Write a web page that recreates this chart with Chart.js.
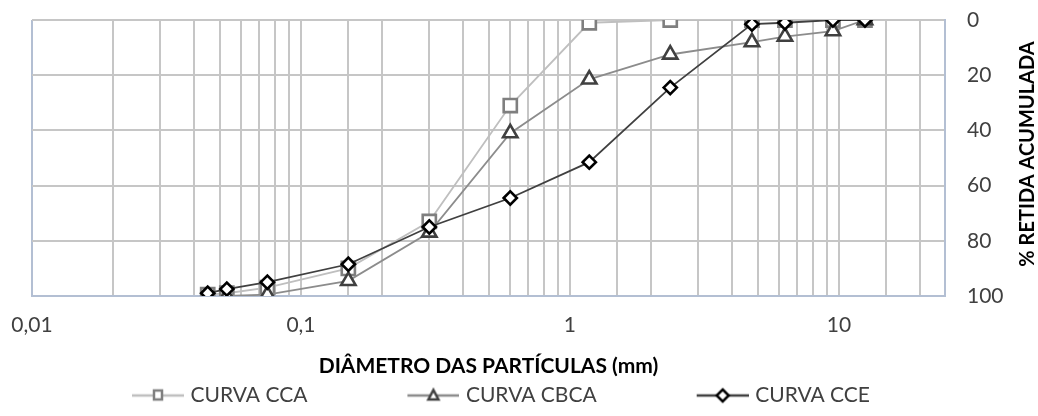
<!DOCTYPE html>
<html>
<head>
<meta charset="utf-8">
<script src="https://cdn.jsdelivr.net/npm/chart.js@4.4.1/dist/chart.umd.min.js"></script>
<style>
  html, body { margin: 0; padding: 0; background: #fff; }
  #wrap { width: 1038px; height: 416px; }
</style>
</head>
<body>
<div id="wrap"><canvas id="granChart"></canvas></div>
<script>
// sieve openings (mm)
const diametros = [0.045, 0.053, 0.075, 0.15, 0.3, 0.6, 1.18, 2.36, 4.75, 6.3, 9.5, 12.5];

// % retida acumulada
const curvaCCA  = [99.5, 99, 97, 90, 73, 31, 1, 0, 0, 0, 0, 0];
const curvaCBCA = [null, 100, 99.5, 94.5, 77, 41, 21.5, 12.5, 8, 6, 4, 0];
const curvaCCE  = [99, 97.5, 95, 88.5, 75, 64.5, 51.5, 24.5, 1.5, 1, 0, 0];

const seriesNames = ['CURVA CCA', 'CURVA CBCA', 'CURVA CCE'];
const yTicks = [0, 20, 40, 60, 80, 100];
const xLabels = [0.01, 0.1, 1, 10];

const FONT = "Lato, 'Open Sans', sans-serif";
const GRID = '#c6c6c6';
const EDGE = '#b3bfd3';

function toPoints(values) {
    return diametros.map((d, i) => ({ x: d, y: values[i] }));
}

// legend symbol: blank lead-in, then a short line with the marker in the middle
const SYM_LEAD = 98;
const SYM_W = 52;
function legendSymbol(lineColor, markerColor, style) {
    const c = document.createElement('canvas');
    c.width = SYM_LEAD + SYM_W;
    c.height = 18;
    const ctx = c.getContext('2d');
    const x0 = SYM_LEAD;
    const cx = x0 + SYM_W / 2;
    ctx.strokeStyle = lineColor;
    ctx.lineWidth = 2.5;
    ctx.beginPath();
    ctx.moveTo(x0, 9);
    ctx.lineTo(x0 + SYM_W, 9);
    ctx.stroke();
    ctx.fillStyle = '#fff';
    ctx.strokeStyle = markerColor;
    ctx.lineWidth = 2.5;
    ctx.beginPath();
    if (style === 'rect') {
        ctx.rect(cx - 4, 4, 8, 9);
    } else if (style === 'triangle') {
        ctx.moveTo(cx, 3.5);
        ctx.lineTo(cx + 5, 13);
        ctx.lineTo(cx - 5, 13);
        ctx.closePath();
    } else {
        ctx.moveTo(cx, 3);
        ctx.lineTo(cx + 6, 9);
        ctx.lineTo(cx, 15);
        ctx.lineTo(cx - 6, 9);
        ctx.closePath();
    }
    ctx.fill();
    ctx.stroke();
    return c;
}

const symbols = [
    legendSymbol('#bfbfbf', '#7f7f7f', 'rect'),
    legendSymbol('#8c8c8c', '#404040', 'triangle'),
    legendSymbol('#404040', '#000000', 'rectRot'),
];

const yTitlePlugin = {
    id: 'yTitle',
    afterDraw(chart) {
        const { ctx, chartArea } = chart;
        ctx.save();
        ctx.translate(1028, (chartArea.top + chartArea.bottom) / 2 - 4);
        ctx.rotate(-Math.PI / 2);
        ctx.font = 'bold 20px ' + FONT;
        ctx.fillStyle = '#000';
        ctx.textAlign = 'center';
        ctx.textBaseline = 'middle';
        ctx.fillText('% RETIDA ACUMULADA', 0, 0);
        ctx.restore();
    }
};

new Chart(document.getElementById('granChart'), {

    type: 'line',

    data: {
        datasets: [
            {
                label: seriesNames[0],
                data: toPoints(curvaCCA),
                borderColor: '#bfbfbf',
                borderWidth: 1.8,
                pointStyle: 'rect',
                pointRadius: 9.3,
                pointBorderWidth: 2.6,
                pointBorderColor: '#7f7f7f',
                pointBackgroundColor: '#fff',
                order: 2,
            },
            {
                label: seriesNames[1],
                data: toPoints(curvaCBCA),
                borderColor: '#8c8c8c',
                borderWidth: 1.8,
                pointStyle: 'triangle',
                pointRadius: 8.3,
                pointBorderWidth: 2.6,
                pointBorderColor: '#404040',
                pointBackgroundColor: '#fff',
                order: 1,
            },
            {
                label: seriesNames[2],
                data: toPoints(curvaCCE),
                borderColor: '#404040',
                borderWidth: 1.8,
                pointStyle: 'rectRot',
                pointRadius: 6.6,
                pointBorderWidth: 2.6,
                pointBorderColor: '#000',
                pointBackgroundColor: '#fff',
                order: 0,
            }
        ]
    },

    options: {
        responsive: true,
        maintainAspectRatio: false,
        animation: false,
        layout: {
            padding: { left: 32, right: 23, top: 20, bottom: 0 }
        },
        plugins: {
            legend: {
                position: 'bottom',
                align: 'start',
                labels: {
                    usePointStyle: true,
                    pointStyleWidth: SYM_LEAD + SYM_W - 8,
                    boxHeight: 18,
                    padding: 6,
                    color: '#404040',
                    font: { family: FONT, size: 21 },
                    generateLabels(chart) {
                        const items = Chart.defaults.plugins.legend.labels.generateLabels(chart);
                        items.forEach(it => { it.pointStyle = symbols[it.datasetIndex]; });
                        return items.sort((a, b) => a.datasetIndex - b.datasetIndex);
                    }
                }
            },
            tooltip: { enabled: false }
        },
        scales: {
            x: {
                type: 'logarithmic',
                min: 0.01,
                max: 24.8,
                afterFit(scale) {
                    scale.height = 83;
                    scale.paddingLeft = 0;
                    scale.paddingRight = 0;
                },
                grid: {
                    color: ctx => (ctx.index === 0 ? EDGE : GRID),
                    lineWidth: 2,
                    drawTicks: false,
                },
                border: { color: EDGE, width: 2 },
                ticks: {
                    autoSkip: false,
                    maxRotation: 0,
                    padding: 17,
                    color: '#404040',
                    font: { family: FONT, size: 21 },
                    callback(value) {
                        return xLabels.includes(value) ? String(value).replace('.', ',') : '';
                    }
                },
                title: {
                    display: true,
                    text: 'DIÂMETRO DAS PARTÍCULAS (mm)',
                    color: '#000',
                    font: { family: FONT, size: 21, weight: 'bold' },
                    padding: { top: 4, bottom: 0 }
                }
            },
            y: {
                position: 'right',
                reverse: true,
                min: 0,
                max: 100,
                afterBuildTicks(scale) {
                    scale.ticks = yTicks.map(v => ({ value: v }));
                },
                afterFit(scale) {
                    scale.width = 70;
                    scale.paddingTop = 0;
                    scale.paddingBottom = 0;
                },
                grid: {
                    color: GRID,
                    lineWidth: 2,
                    drawTicks: false,
                },
                border: { color: EDGE, width: 2 },
                ticks: {
                    padding: 22,
                    color: '#404040',
                    font: { family: FONT, size: 21 },
                }
            }
        }
    },

    plugins: [yTitlePlugin]

});
</script>
</body>
</html>
